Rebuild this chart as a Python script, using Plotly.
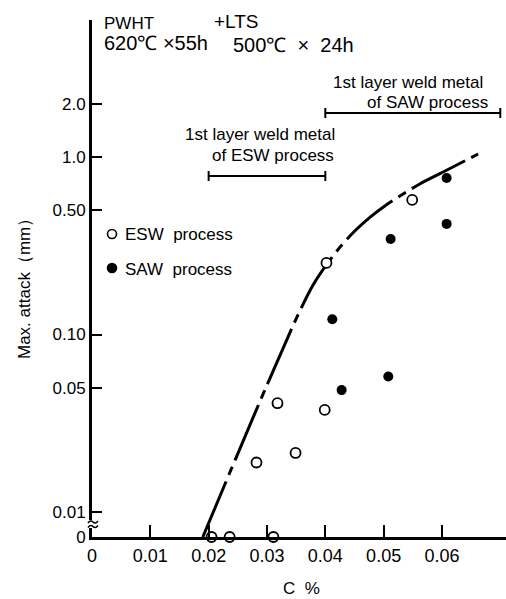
import plotly.graph_objects as go

# ---- data -------------------------------------------------------------
# ESW process (open circles); 0 means no attack (drawn on the zero line)
ESW_C = [0.0205, 0.0236, 0.0311, 0.0282, 0.0318, 0.0349, 0.0399, 0.0402, 0.0549]
ESW_ATTACK = [0, 0, 0, 0.019, 0.041, 0.0215, 0.0376, 0.253, 0.573]

# SAW process (filled circles)
SAW_C = [0.0412, 0.0428, 0.0508, 0.0512, 0.0608, 0.0608]
SAW_ATTACK = [0.122, 0.0486, 0.058, 0.345, 0.42, 0.762]

# upper-bound trend curve
CURVE_C = [0.0190, 0.0300, 0.0357, 0.0379, 0.0403, 0.0430, 0.0454, 0.0477,
           0.0502, 0.0528, 0.0562, 0.0602, 0.0662]
CURVE_ATTACK = [0, 0.0519, 0.137, 0.190, 0.250, 0.324, 0.393, 0.459,
                0.530, 0.603, 0.705, 0.823, 1.04]

# C ranges of the 1st layer weld metal
ESW_RANGE = [0.02, 0.04]
SAW_RANGE = [0.04, 0.07]

Y_TICKS = [2.0, 1.0, 0.5, 0.1, 0.05, 0.01]
Y_TICK_TEXT = ["2.0", "1.0", "0.50", "0.10", "0.05", "0.01"]
X_TICKS = [0, 0.01, 0.02, 0.03, 0.04, 0.05, 0.06]
X_TICK_TEXT = ["0", "0.01", "0.02", "0.03", "0.04", "0.05", "0.06"]

# ---- geometry -----------------------------------------------------------
W, H = 506, 599
ML, MR, MT, MB = 92, 0, 20, 62
PW, PH = W - ML - MR, H - MT - MB
X_RANGE = [0, 0.07098]
Y_LOG_RANGE = [-2.141, 0.772]
BASELINE = 10 ** Y_LOG_RANGE[0]   # level where the broken axis shows "0"

FONT = "Liberation Sans, Arial, sans-serif"
FS = 17
NB = "\u00a0"


def px(x):
    return (x - ML) / PW


def py(y):
    return (MT + PH - y) / PH


def on_axis(values):
    return [v if v > 0 else BASELINE for v in values]


fig = go.Figure()

fig.add_trace(go.Scatter(
    x=CURVE_C, y=on_axis(CURVE_ATTACK), mode="lines",
    line=dict(color="black", width=3, dash="60px,7px,9px,7px", shape="spline", smoothing=1.0),
    hoverinfo="skip", showlegend=False, cliponaxis=False,
))
fig.add_trace(go.Scatter(
    x=SAW_C, y=on_axis(SAW_ATTACK), mode="markers", name="SAW process",
    marker=dict(symbol="circle", size=10, color="black"),
    showlegend=False, cliponaxis=False,
))
fig.add_trace(go.Scatter(
    x=ESW_C, y=on_axis(ESW_ATTACK), mode="markers", name="ESW process",
    marker=dict(symbol="circle", size=10, color="white", line=dict(color="black", width=1.8)),
    showlegend=False, cliponaxis=False,
))

shapes = []
# C-range brackets
for (x0, x1), ypix in ((ESW_RANGE, 176), (SAW_RANGE, 113)):
    shapes.append(dict(type="line", xref="x", yref="paper", x0=x0, x1=x1, y0=py(ypix), y1=py(ypix),
                       line=dict(color="black", width=2)))
    for xe in (x0, x1):
        shapes.append(dict(type="line", xref="x", yref="paper", x0=xe, x1=xe,
                           y0=py(ypix - 5), y1=py(ypix + 5), line=dict(color="black", width=2)))

# axis break between 0.01 and 0
shapes.append(dict(type="rect", xref="paper", yref="paper", x0=px(89), x1=px(96),
                   y0=py(528), y1=py(520), fillcolor="white", line=dict(width=0), layer="above"))
for yb in (522, 526.5):
    path = "M {:.5f},{:.5f} Q {:.5f},{:.5f} {:.5f},{:.5f} T {:.5f},{:.5f}".format(
        px(88), py(yb + 1), px(90.5), py(yb - 2.5), px(93), py(yb), px(98), py(yb - 1))
    shapes.append(dict(type="path", xref="paper", yref="paper", path=path,
                       line=dict(color="black", width=1.6), layer="above"))

# legend markers
for ypix, fill in ((234, "white"), (268, "black")):
    shapes.append(dict(type="circle", xref="paper", yref="paper", xsizemode="pixel", ysizemode="pixel",
                       xanchor=px(112), yanchor=py(ypix), x0=-4.5, x1=4.5, y0=-4.5, y1=4.5,
                       fillcolor=fill, line=dict(color="black", width=1.6)))

texts = [
    ("PWHT", 102, 23, "left", 17),
    ("+LTS", 212, 22, "left", 19),
    ("620℃" + NB + "×55h", 102, 43, "left", 20),
    ("500℃" + NB * 2 + "×" + NB * 2 + "24h", 231, 45, "left", 20),
    ("1st layer weld metal", 331, 82, "left", FS),
    ("of SAW process", 365, 102, "left", FS),
    ("1st layer weld metal", 183, 134, "left", FS),
    ("of ESW process", 210, 155, "left", FS),
    ("ESW" + NB * 2 + "process", 123, 235, "left", FS),
    ("SAW" + NB * 2 + "process", 123, 269, "left", FS),
    ("C" + NB * 2 + "%", 301, 588, "center", FS),
]
annotations = [
    dict(text=t, x=px(x), y=py(y), xref="paper", yref="paper", xanchor=a, yanchor="middle",
         showarrow=False, font=dict(family=FONT, size=s, color="black"))
    for t, x, y, a, s in texts
]
annotations.append(dict(text="Max. attack（mm）", x=px(24), y=py(285), xref="paper", yref="paper",
                        xanchor="center", yanchor="middle", textangle=-90, showarrow=False,
                        font=dict(family=FONT, size=FS, color="black")))

fig.update_layout(
    width=W, height=H,
    margin=dict(l=ML, r=MR, t=MT, b=MB),
    paper_bgcolor="white", plot_bgcolor="white",
    font=dict(family=FONT, size=FS, color="black"),
    shapes=shapes, annotations=annotations,
    xaxis=dict(range=X_RANGE, showgrid=False, zeroline=False, showline=True, linecolor="black",
               linewidth=3, ticks="inside", ticklen=12, tickwidth=2, tickcolor="black",
               tickvals=X_TICKS, ticktext=X_TICK_TEXT, tickfont=dict(size=18)),
    yaxis=dict(type="log", range=Y_LOG_RANGE, showgrid=False, zeroline=False, showline=True,
               linecolor="black", linewidth=3, ticks="inside", ticklen=10, tickwidth=2,
               tickcolor="black", tickvals=Y_TICKS + [BASELINE], ticktext=Y_TICK_TEXT + ["0"],
               tickfont=dict(size=17)),
)

fig.write_html("out.html")
